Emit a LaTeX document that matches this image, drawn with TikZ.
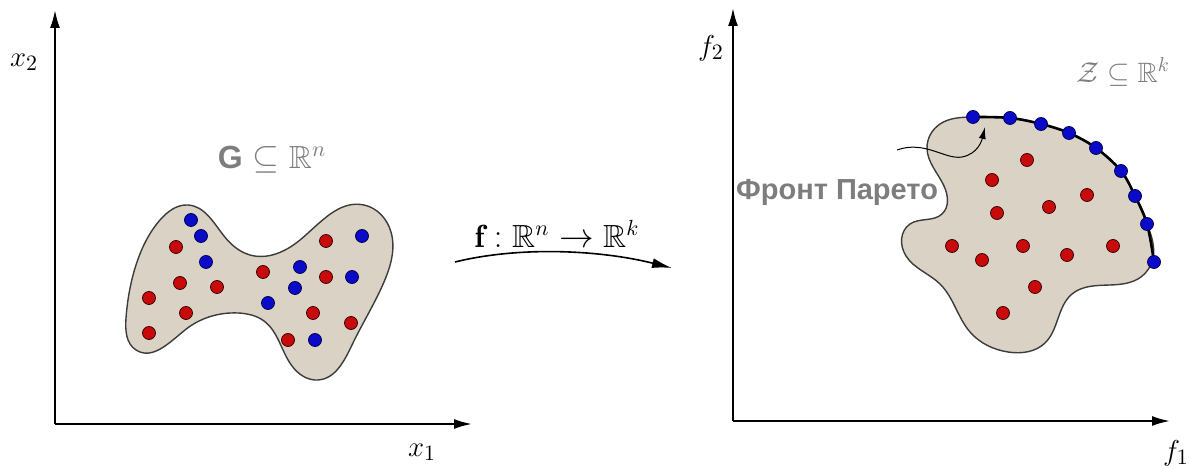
\documentclass[tikz,border=0pt]{standalone}
\usepackage{amssymb}
\usepackage{fontspec}
\newfontfamily\labelfont{Liberation Sans}
\usetikzlibrary{arrows.meta,hobby}
\definecolor{regionfill}{RGB}{217,210,197}
\definecolor{outlinecol}{RGB}{60,60,60}
\definecolor{labelgray}{RGB}{125,125,125}
\definecolor{reddot}{RGB}{200,10,10}
\definecolor{bluedot}{RGB}{10,10,200}
\tikzset{
  axis/.style={line width=1pt,-{Latex[length=9pt,width=5pt]}},
  region/.style={fill=regionfill,draw=outlinecol,line width=0.7pt},
  rdot/.style={circle,inner sep=0pt,minimum size=6.5pt,fill=reddot,draw=black!70!reddot,line width=0.4pt},
  bdot/.style={circle,inner sep=0pt,minimum size=6.5pt,fill=bluedot,draw=black!60!bluedot,line width=0.4pt},
  axlab/.style={font=\fontsize{15}{17}\selectfont},
}
\begin{document}
\begin{tikzpicture}[x=0.5pt,y=-0.5pt]
\useasboundingbox (0,0) rectangle (1189,469);
% ---------- left axes
\coordinate (lo) at (55,424);
\coordinate (ly) at (55,10);
\coordinate (lx) at (472,424);
\draw[axis] (lo) -- (ly);
\draw[axis] (lo) -- (lx);
\node[axlab] (x2) at (24,62) {$x_2$};
\node[axlab] (x1) at (422,452) {$x_1$};
% ---------- region G
\draw[region,use Hobby shortcut,closed=true] (188,205) .. (224,236) .. (250,255) .. (300,240) .. (364,205) .. (391,232) .. (384,282) .. (352,345) .. (318,380) .. (292,366) .. (264,321) .. (238,313) .. (185,330) .. (136,350) .. (126,318) .. (137,262) .. (160,220);
\node[font=\fontsize{16}{18}\selectfont,text=labelgray] (G) at (272,160) {{\labelfont\bfseries G} $\subseteq\mathbb{R}^n$};
\foreach \p in {(191,220),(201,236),(206,262),(362,236),(300,267),(295,288),(268,303),(352,277),(315,340)}
  \node[bdot] at \p {};
\foreach \p in {(176,247),(180,283),(217,287),(149,298),(186,313),(149,333),(326,241),(263,272),(326,277),(313,313),(351,323),(288,340)}
  \node[rdot] at \p {};
% ---------- mapping arrow
\coordinate (ms) at (455,262);
\coordinate (me) at (672,268);
\draw[line width=0.8pt,-{Latex[length=10pt,width=5pt]}] (ms) .. controls (520,246) and (600,250) .. (me);
\node[font=\fontsize{16}{18}\selectfont] (f) at (557,234) {$\mathbf{f}:\mathbb{R}^n\rightarrow\mathbb{R}^k$};
% ---------- right axes
\coordinate (ro) at (733,421);
\coordinate (ry) at (733,8);
\coordinate (rx) at (1170,421);
\draw[axis] (ro) -- (ry);
\draw[axis] (ro) -- (rx);
\node[axlab] (f2) at (711,48) {$f_2$};
\node[axlab] (f1) at (1176,453) {$f_1$};
% ---------- region Z
\draw[region,use Hobby shortcut,closed=true] (973,117) .. (1010,118) .. (1041,124) .. (1069,133) .. (1096,148) .. (1121,171) .. (1135,196) .. (1147,224) .. (1153,258) .. (1141,277) .. (1110,285) .. (1072,294) .. (1045,343) .. (1008,352) .. (970,332) .. (940,284) .. (906,256) .. (910,224) .. (942,214) .. (944,186) .. (927,148) .. (940,124);
\draw[line width=1.3pt] plot[smooth,tension=0.6] coordinates {(973,117) (1010,118) (1041,124) (1069,133) (1096,148) (1121,171) (1135,196) (1147,224) (1154,262)};
\node[font=\fontsize{14}{16}\selectfont,text=labelgray] (Z) at (1123,72) {$\mathcal{Z}\subseteq\mathbb{R}^k$};
\foreach \p in {(1027,160),(992,180),(1087,195),(1049,207),(997,213),(952,246),(1023,246),(1113,246),(982,260),(1067,255),(1035,287),(1003,313)}
  \node[rdot] at \p {};
\foreach[count=\i] \p in {(973,117),(1010,118),(1041,124),(1069,133),(1096,148),(1121,171),(1135,196),(1147,224),(1154,262)}
  \node[bdot] (pf\i) at \p {};
% ---------- Pareto label and arrow
\node[font=\labelfont\bfseries\fontsize{14.5}{16}\selectfont,text=labelgray] (pareto) at (837,192) {Фронт Парето};
\coordinate (ps) at (897,150);
\draw[line width=0.5pt,-{Latex[length=6pt,width=3.5pt]}] (ps) .. controls (925,140) and (945,160) .. (962,157) .. controls (978,154) and (982,140) .. (985,127);
\end{tikzpicture}
\end{document}
